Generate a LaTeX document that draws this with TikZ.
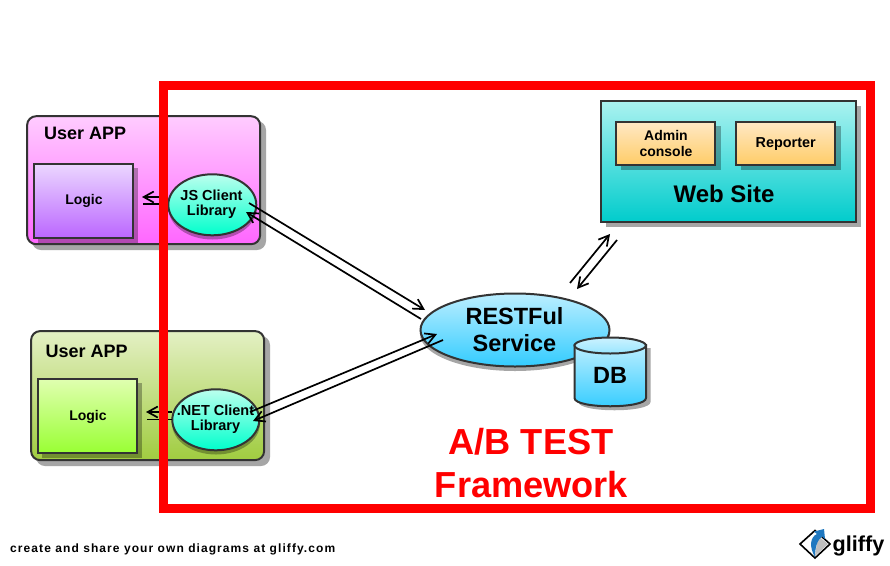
\documentclass[tikz,border=0pt]{standalone}
\usepackage{fontspec}
\setmainfont{Liberation Sans}[BoldFont={Liberation Sans Bold}]
\usetikzlibrary{shapes.geometric,arrows.meta,shadings}
\definecolor{edge}{HTML}{333333}
\definecolor{pinkA}{HTML}{FFCCFF}\definecolor{pinkB}{HTML}{FF66FF}
\definecolor{violetA}{HTML}{EBD6FF}\definecolor{violetB}{HTML}{BB66FF}
\definecolor{mintA}{HTML}{BBFFEE}\definecolor{mintB}{HTML}{00FFCC}
\definecolor{oliveA}{HTML}{E4F0C4}\definecolor{oliveB}{HTML}{A0CC40}
\definecolor{limeA}{HTML}{E0FFB0}\definecolor{limeB}{HTML}{99FF33}
\definecolor{skyA}{HTML}{BBEEFF}\definecolor{skyB}{HTML}{33CCFF}
\definecolor{capA}{HTML}{CCF2FF}\definecolor{capB}{HTML}{99E6FF}
\definecolor{tealA}{HTML}{AAF2F0}\definecolor{tealB}{HTML}{00CCCC}
\definecolor{sandA}{HTML}{FFE8C4}\definecolor{sandB}{HTML}{FFCC66}
\definecolor{logoblue}{HTML}{1F78C0}
\newcommand{\fs}[2]{\fontsize{#1}{#2}\selectfont\bfseries}
\tikzset{
  x=1pt,y=-1pt,
  boxbase/.style={draw=edge,line width=2pt,inner sep=0pt,align=center,text=black},
  panel/.style={boxbase,rectangle,rounded corners=9pt,minimum width=#1},
  plainbox/.style={boxbase,rectangle},
  oval/.style={boxbase,ellipse},
  grayshadow/.style={fill=black!35},
  softshadow/.style={fill=black,fill opacity=.3},
  link/.style={draw=black,line width=1.7pt,-{Straight Barb[length=10pt,width=11pt,line width=1.7pt]}},
  tail/.style={draw=black,line width=1.7pt},
  label/.style={inner sep=0pt,text=black,align=center},
  frame/.style={draw=red,line width=9pt,miter limit=10}
}
\begin{document}
\begin{tikzpicture}
\useasboundingbox (0,0) rectangle (890,565);
\fill[white] (0,0) rectangle (890,565);

% --- top user app
\fill[grayshadow,rounded corners=9pt] (32,121) rectangle (266,250);
\node[panel=233pt,minimum height=128pt,top color=pinkA,bottom color=pinkB] (app1) at (143.6,180.2) {};
\node[label,anchor=west] (app1t) at (44,133) {\fs{18}{20}User APP};
\fill[softshadow] (38,168) rectangle (138,243);
\node[plainbox,minimum width=99pt,minimum height=74pt,top color=violetA,bottom color=violetB] (logic1) at (83.6,201.2) {};
\node[label] (logic1t) at (84,201) {\fs{14}{16}Logic};
\fill[softshadow] (212.5,208.5) ellipse [x radius=44,y radius=31];
\node[oval,minimum width=88pt,minimum height=61pt,top color=mintA,bottom color=mintB] (js) at (212.3,204.8) {};
\node[label] (jst) at (211.5,204) {\fs{14.5}{16}JS Client\\[3.5pt]\fs{14.5}{16}Library};

% --- bottom user app
\fill[grayshadow,rounded corners=9pt] (36,336) rectangle (270,466);
\node[panel=233pt,minimum height=129pt,top color=oliveA,bottom color=oliveB] (app2) at (147.6,395.6) {};
\node[label,anchor=west] (app2t) at (45.5,351) {\fs{18}{20}User APP};
\fill[softshadow] (42,383) rectangle (142,458);
\node[plainbox,minimum width=99pt,minimum height=74pt,top color=limeA,bottom color=limeB] (logic2) at (87.6,416.2) {};
\node[label] (logic2t) at (88,417) {\fs{14}{16}Logic};
\fill[softshadow] (216,423.5) ellipse [x radius=44,y radius=31];
\node[oval,minimum width=87pt,minimum height=61pt,top color=mintA,bottom color=mintB] (net) at (215.8,419.8) {};
\node[label] (nett) at (215.5,419) {\fs{14.5}{16}.NET Client\\[3.5pt]\fs{14.5}{16}Library};

% --- restful service
\fill[black!35] (515,334) ellipse [x radius=95,y radius=37];
\node[oval,minimum width=189pt,minimum height=73pt,top color=skyA,bottom color=skyB] (rest) at (515,330) {};
\node[label] (restt) at (514.5,329.5) {\fs{23.5}{29}RESTFul\\[9pt]\fs{23.5}{29}Service};

% --- database
\fill[black!35] (578.5,348) -- (578.5,402) .. controls (578.5,413) and (650.5,413) .. (650.5,402) -- (650.5,348) -- cycle;
\path[draw=edge,line width=2pt,top color=skyA,bottom color=skyB]
  (574.5,345) -- (574.5,398) .. controls (574.5,409) and (646,409) .. (646,398) -- (646,345) -- cycle;
\path[draw=edge,line width=2pt,top color=capA,bottom color=capB] (610.2,345.5) ellipse [x radius=35.7,y radius=8];
\node[label] (db) at (610,375) {\fs{23.5}{25}DB};

% --- web site
\fill[grayshadow] (606,106) rectangle (861,227);
\node[plainbox,minimum width=255pt,minimum height=121pt,top color=tealA,bottom color=tealB] (web) at (728.6,161.8) {};
\node[label] (webt) at (724,194) {\fs{24}{26}Web Site};
\fill[softshadow] (620.5,126) rectangle (720.5,170);
\node[plainbox,minimum width=99pt,minimum height=43pt,top color=sandA,bottom color=sandB] (admin) at (665.7,143.8) {};
\node[label] (admint) at (666,143) {\fs{14}{16}Admin\\[4pt]\fs{14}{16}console};
\fill[softshadow] (740.5,126) rectangle (840.5,170);
\node[plainbox,minimum width=99pt,minimum height=43pt,top color=sandA,bottom color=sandB] (reporter) at (785.7,143.8) {};
\node[label] (reportert) at (785.7,144) {\fs{14.4}{16}Reporter};

% --- connector ends
\coordinate (a1) at (249,203);   \coordinate (a2) at (425,310);
\coordinate (b1) at (421,319);   \coordinate (b2) at (246,212);
\coordinate (c1) at (443,340);   \coordinate (c2) at (253,421);
\coordinate (d1) at (250,412);   \coordinate (d2) at (437,334);
\coordinate (e1) at (570,283);   \coordinate (e2) at (610,234);
\coordinate (f1) at (617,240);   \coordinate (f2) at (577,289);
\coordinate (g1) at (168,197);   \coordinate (g2) at (142,197);
\coordinate (h1) at (143,204);   \coordinate (h2) at (168,204);
\coordinate (i1) at (172,412);   \coordinate (i2) at (146,412);
\coordinate (j1) at (147,419.5); \coordinate (j2) at (172,419.5);

\draw[link] (a1) -- (a2);
\draw[link] (b1) -- (b2);
\draw[link] (c1) -- (c2);
\draw[link] (d1) -- (d2);
\draw[link] (e1) -- (e2);
\draw[link] (f1) -- (f2);
\draw[link] (g1) -- (g2);
\draw[tail] (h1) -- (h2);
\draw[link] (i1) -- (i2);
\draw[tail] (j1) -- (j2);

% --- red frame and its title
\draw[frame] (163.5,85.5) rectangle (870.5,508.5);
\node[inner sep=0pt,text=red] (abt) at (531,442) {\fs{36.2}{38}A/B TEST};
\node[inner sep=0pt,text=red] (fw) at (531.5,484.5) {\fs{36.2}{38}Framework};

% --- footer
\node[label,anchor=west] (foot) at (10,549) {\addfontfeature{LetterSpace=9}\fs{12}{14}create and share your own diagrams at gliffy.com};
\fill[white,draw=black,line width=1.6pt] (800,544) -- (815,530.5) -- (830,544) -- (815,558) -- cycle;
\fill[black!25] (815,556) -- (828,544) -- (818,536) -- cycle;
\fill[logoblue] (815,557) .. controls (809,547) and (810,537) .. (817,534) -- (814,531.5) -- (824,529) -- (825,539) -- (822,536.5) .. controls (817,540) and (815,548) .. (815,557) -- cycle;
\node[label,anchor=west] (logo) at (832.5,546) {\fs{21.6}{24}gliffy};
\end{tikzpicture}
\end{document}
